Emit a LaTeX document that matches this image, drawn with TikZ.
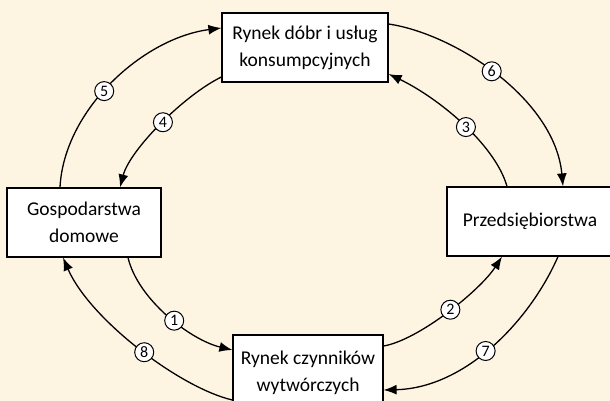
\documentclass[tikz,border=0pt]{standalone}
\usepackage{fontspec}
\setmainfont{Carlito}
\usetikzlibrary{arrows.meta}
\definecolor{bgcream}{RGB}{254,244,226}
\begin{document}
\begin{tikzpicture}[x=1pt,y=1pt,
  box/.style={draw, fill=white, line width=1.2pt, align=center, inner sep=0pt,
    font=\fontsize{19.5}{27}\selectfont},
  lbl/.style={circle, draw, fill=white, line width=1pt, minimum size=19pt,
    inner sep=0pt, font=\fontsize{16}{16}\selectfont},
  arr/.style={line width=1.3pt, -{Latex[length=13pt,width=10pt]}}]
\path[use as bounding box, fill=bgcream] (0,0) rectangle (610,-401);
\node[box, minimum width=166pt, minimum height=69pt] (rd) at (305,-47.5) {Rynek dóbr i usług\\konsumpcyjnych};
\node[box, minimum width=154pt, minimum height=69pt] (gd) at (84,-222.5) {Gospodarstwa\\domowe};
\node[box, minimum width=166pt, minimum height=69pt] (pr) at (530,-221.5) {Przedsiębiorstwa};
\node[box, minimum width=150pt, minimum height=76pt] (rc) at (308,-373) {Rynek czynników\\wytwórczych};
\draw[arr] ([xshift=-24pt]gd.north) .. controls +(4,78) and +(-78,-10) .. ([yshift=19.5pt]rd.west) node[lbl,pos=0.45]{5};
\draw[arr] ([yshift=-29.5pt]rd.west) .. controls +(-37,-18) and +(10,38) .. ([xshift=36pt]gd.north) node[lbl,pos=0.48]{4};
\draw[arr] ([yshift=23.5pt]rd.east) .. controls +(67,-10) and +(-8,87) .. ([xshift=33pt]pr.north) node[lbl,pos=0.47]{6};
\draw[arr] ([xshift=-23pt]pr.north) .. controls +(-12,42) and +(50,-24) .. ([yshift=-26.5pt]rd.east) node[lbl,pos=0.47]{3};
\draw[arr] ([yshift=27pt]rc.east) .. controls +(35,6) and +(-22,-34) .. ([xshift=-28pt]pr.south) node[lbl,pos=0.52]{2};
\draw[arr] ([xshift=28pt]pr.south) .. controls +(-28,-64) and +(82,2) .. ([yshift=-17pt]rc.east) node[lbl,pos=0.53]{7};
\draw[arr] ([xshift=44pt]gd.south) .. controls +(10,-42) and +(-42,10) .. ([yshift=23pt]rc.west) node[lbl,pos=0.55]{1};
\draw[arr] ([yshift=-27pt]rc.west) .. controls +(-52,12) and +(27,-62) .. ([xshift=-21pt]gd.south) node[lbl,pos=0.47]{8};
\end{tikzpicture}
\end{document}
